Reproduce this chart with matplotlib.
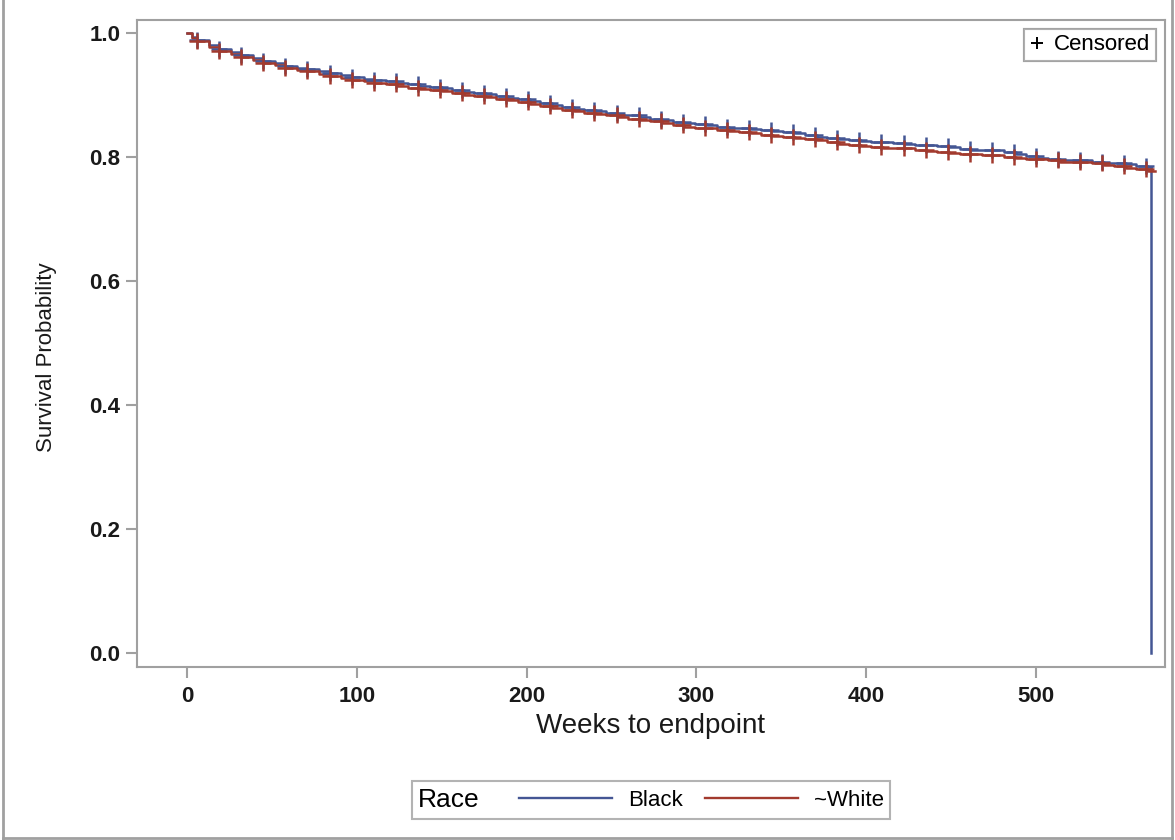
import numpy as np
import matplotlib.pyplot as plt
from matplotlib.lines import Line2D
from matplotlib.offsetbox import HPacker

plt.rcParams['font.family'] = ['Liberation Sans', 'DejaVu Sans']

# step times (weeks) and Kaplan-Meier estimates
weeks = [0, 3, 6, 13, 19, 26, 32, 39, 45, 52, 58, 65, 71, 78, 84, 91, 97, 104, 110, 117,
         124, 130, 137, 143, 150, 156, 163, 169, 176, 182, 189, 195, 202, 208, 215, 221,
         228, 234, 241, 247, 254, 260, 267, 273, 280, 286, 293, 299, 306, 312, 319, 325,
         332, 338, 345, 351, 358, 364, 371, 377, 384, 390, 397, 403, 410, 416, 423, 429,
         436, 442, 449, 455, 462, 468, 475, 481, 488, 494, 501, 507, 514, 520, 527, 533,
         540, 546, 553, 559, 566]
surv_black = [1.0, 0.993, 0.989, 0.980, 0.974, 0.969, 0.965, 0.960, 0.955, 0.951, 0.947, 0.944,
              0.942, 0.938, 0.935, 0.932, 0.929, 0.926, 0.924, 0.922, 0.920, 0.917, 0.915, 0.913,
              0.911, 0.908, 0.905, 0.904, 0.902, 0.898, 0.895, 0.893, 0.890, 0.887, 0.884, 0.880,
              0.878, 0.876, 0.874, 0.871, 0.868, 0.867, 0.865, 0.862, 0.860, 0.857, 0.855, 0.853,
              0.852, 0.849, 0.847, 0.846, 0.845, 0.843, 0.842, 0.840, 0.839, 0.835, 0.832, 0.831,
              0.829, 0.827, 0.826, 0.825, 0.824, 0.822, 0.821, 0.820, 0.819, 0.817, 0.816, 0.813,
              0.811, 0.811, 0.811, 0.808, 0.805, 0.801, 0.798, 0.796, 0.795, 0.795, 0.795, 0.792,
              0.790, 0.790, 0.789, 0.786, 0.784]
surv_white = [1.0, 0.992, 0.987, 0.977, 0.971, 0.966, 0.962, 0.957, 0.952, 0.948, 0.944, 0.941,
              0.938, 0.934, 0.931, 0.928, 0.925, 0.922, 0.920, 0.917, 0.915, 0.912, 0.910, 0.908,
              0.906, 0.903, 0.900, 0.899, 0.897, 0.894, 0.892, 0.889, 0.885, 0.882, 0.879, 0.876,
              0.874, 0.871, 0.869, 0.867, 0.865, 0.862, 0.860, 0.858, 0.855, 0.851, 0.848, 0.847,
              0.847, 0.844, 0.842, 0.840, 0.839, 0.836, 0.834, 0.833, 0.831, 0.829, 0.827, 0.824,
              0.821, 0.819, 0.818, 0.816, 0.815, 0.815, 0.815, 0.812, 0.810, 0.808, 0.806, 0.805,
              0.805, 0.804, 0.803, 0.800, 0.798, 0.797, 0.797, 0.795, 0.792, 0.792, 0.792, 0.790,
              0.787, 0.785, 0.782, 0.780, 0.777]
end_black = 568
end_white = 570

censor_weeks = [6, 19, 32, 45, 58, 71, 84, 97, 110, 123, 136, 149, 162, 175, 188, 201, 214,
                227, 240, 253, 266, 279, 292, 305, 318, 331, 344, 357, 370, 383, 396, 409, 422,
                435, 448, 461, 474, 487, 500, 513, 526, 539, 552, 565]

blue = '#445694'
red = '#A23A2E'
grey = '#a0a0a0'
txt = '#1a1a1a'

fig = plt.figure(figsize=(11.75, 8.4), dpi=100)
ax = fig.add_axes([137/1175, 1 - 667/840, (1165-137)/1175, (667-20)/840])


def km(t, s, end, color, drop):
    t = np.array(t + [end])
    s = np.array(s + [s[-1]])
    ax.step(t, s, where='post', color=color, lw=1.8, zorder=3)
    if drop:
        ax.plot([end, end], [s[-1], 0], color=color, lw=1.8, zorder=3)
    ct = np.array(censor_weeks)
    idx = np.searchsorted(t, ct, side='right') - 1
    ax.plot(ct, s[idx], '+', color=color, ms=11, mew=1.8, zorder=4)


km(weeks, surv_black, end_black, blue, True)
km(weeks, surv_white, end_white, red, False)

ax.set_xlim(-29.4, 576)
ax.set_ylim(-0.0226, 1.021)
ax.set_xticks([0, 100, 200, 300, 400, 500])
ax.set_yticks([0.0, 0.2, 0.4, 0.6, 0.8, 1.0])
ax.set_yticklabels(['0.0', '0.2', '0.4', '0.6', '0.8', '1.0'])
for sp in ax.spines.values():
    sp.set_color(grey)
    sp.set_linewidth(1.5)
ax.tick_params(colors=grey, length=8, width=1.5, labelcolor=txt, labelsize=16)
ax.tick_params(axis='x', pad=6)
ax.tick_params(axis='y', pad=4)
for lab in ax.get_xticklabels() + ax.get_yticklabels():
    lab.set_fontweight('bold')
ax.set_xlabel('Weeks to endpoint', fontsize=20, color=txt, labelpad=4)
ax.set_ylabel('Survival Probability', fontsize=16, color=txt)
ax.yaxis.set_label_coords(-0.078, 0.479)

# censored legend
cl = ax.legend([Line2D([], [], ls='none', marker='+', color='black', ms=9, mew=1.4)],
               ['Censored'], loc='upper right', fontsize=16, frameon=True, fancybox=False,
               handlelength=0.6, handletextpad=0.5, borderpad=0.25, borderaxespad=0.4)
cl.get_frame().set_edgecolor(grey)
cl.get_frame().set_linewidth(1.5)
ax.add_artist(cl)

# race legend at bottom, title set inline on the left
handles = [Line2D([], [], color=blue, lw=1.7),
           Line2D([], [], color=red, lw=1.7)]
rl = fig.legend(handles, ['Black', '~White'], loc='center', ncol=2,
                bbox_to_anchor=(651/1175, 1 - 800/840), fontsize=16, frameon=True,
                fancybox=False, handlelength=4.2, handletextpad=0.7, columnspacing=1.0,
                borderpad=0.3, title='Race', title_fontsize=19)
rl.get_frame().set_edgecolor(grey)
rl.get_frame().set_linewidth(1.5)
fs = rl._fontsize
rl._legend_box = HPacker(pad=rl.borderpad * fs, sep=28, align='center',
                         children=[rl._legend_title_box, rl._legend_handle_box])
rl._legend_box.set_figure(fig)
rl._legend_box.set_offset(rl._findoffset)

# outer border
for xs, ys in [([3/1175, 3/1175], [0, 1]), ([1172/1175, 1172/1175], [0, 1]),
               ([3/1175, 1172/1175], [2/840, 2/840])]:
    fig.add_artist(Line2D(xs, ys, color=grey, lw=2, transform=fig.transFigure))

fig.savefig('out.png', dpi=100)
